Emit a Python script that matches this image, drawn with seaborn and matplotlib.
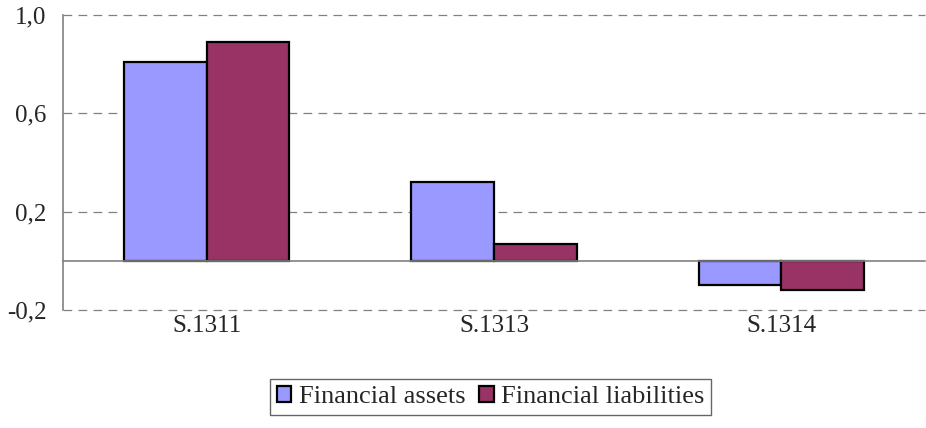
import matplotlib
matplotlib.use("Agg")
import matplotlib.pyplot as plt
import seaborn as sns
import pandas as pd
from matplotlib.ticker import FixedLocator

categories = ["S.1311", "S.1313", "S.1314"]
series_names = ["Financial assets", "Financial liabilities"]
assets = [0.81, 0.32, -0.10]
liabilities = [0.89, 0.07, -0.12]
yticks = [-0.2, 0.2, 0.6, 1.0]
ytick_labels = ["-0,2", "0,2", "0,6", "1,0"]
colors = ["#9999FF", "#993366"]

df = pd.DataFrame({
    "cat": categories * 2,
    "series": [series_names[0]] * 3 + [series_names[1]] * 3,
    "value": assets + liabilities,
})

sns.set_style("white")
plt.rcParams["font.family"] = ["Liberation Serif", "DejaVu Serif"]

fig = plt.figure(figsize=(9.26, 4.28), dpi=100)
ax = fig.add_axes([0.068, 0.276, 0.931, 0.689])

sns.barplot(data=df, x="cat", y="value", hue="series", hue_order=series_names,
            palette=colors, width=0.575, gap=0, edgecolor="black", linewidth=1.6,
            saturation=1, ax=ax, legend=True)

ax.set_ylim(-0.2, 1.0)
ax.set_xlim(-0.5, 2.5)
ax.set_yticks(yticks)
ax.set_yticklabels(ytick_labels, fontsize=18)
for y in yticks:
    ax.axhline(y, color="#808080", lw=0.9, ls=(0, (7, 5)), zorder=0, clip_on=False)

for s in ["top", "right"]:
    ax.spines[s].set_visible(False)
ax.spines["left"].set_color("#808080")
ax.spines["left"].set_linewidth(1.2)
ax.spines["bottom"].set_position(("data", 0))
ax.spines["bottom"].set_color("#808080")
ax.spines["bottom"].set_linewidth(1.2)

ax.tick_params(axis="y", direction="out", length=7, color="#808080", width=1.2, pad=5)
ax.tick_params(axis="x", which="major", length=0, pad=39, labelsize=18)
ax.xaxis.set_minor_locator(FixedLocator([0.5, 1.5, 2.5]))
ax.tick_params(axis="x", which="minor", direction="out", length=6, color="#808080", width=1.2)
ax.set_xlabel("")
ax.set_ylabel("")

handles, labels = ax.get_legend_handles_labels()
ax.get_legend().remove()
leg = fig.legend(handles, labels, loc="center", bbox_to_anchor=(0.53, 0.072),
                 ncol=2, fontsize=19, frameon=True, fancybox=False,
                 handlelength=0.55, handleheight=0.55, handletextpad=0.3,
                 columnspacing=0.5, borderpad=0.25, borderaxespad=0)
leg.get_frame().set_edgecolor("#404040")
leg.get_frame().set_linewidth(1.0)

fig.savefig("out.png", dpi=100)
